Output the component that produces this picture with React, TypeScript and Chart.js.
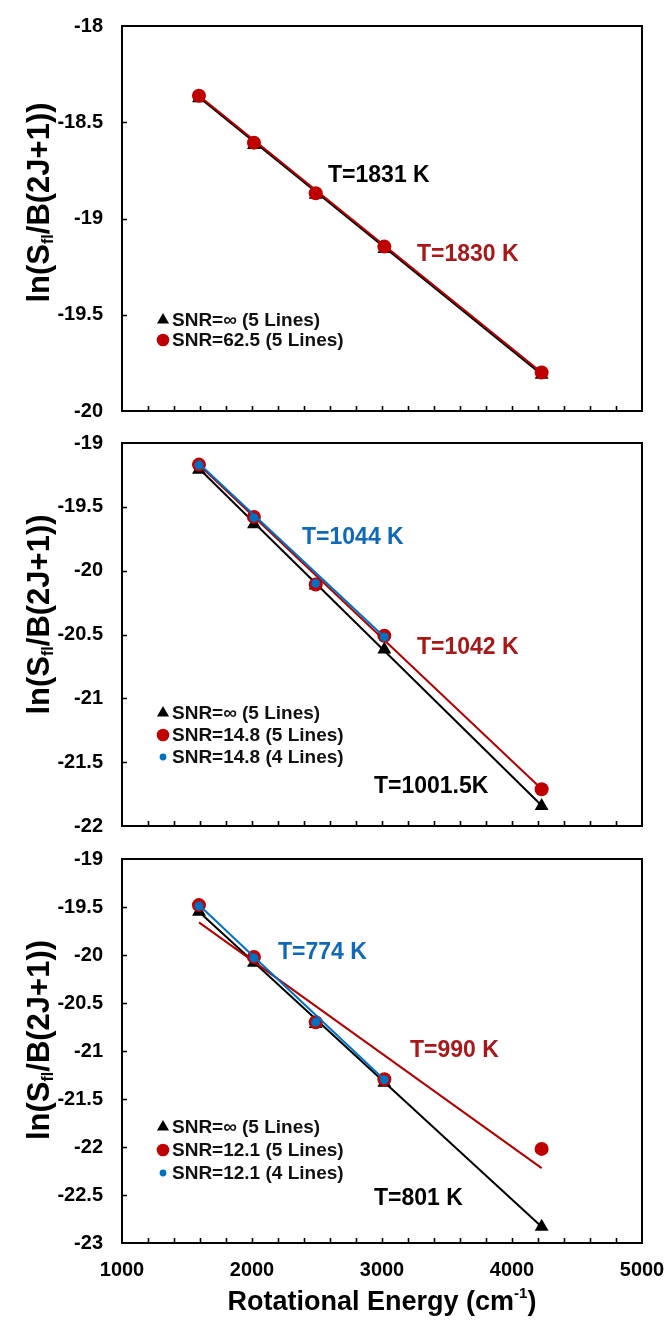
import React, { useEffect, useRef } from "react";
import { Chart, registerables } from "chart.js";

Chart.register(...registerables);

const FONT = "'Liberation Sans', Arial, Helvetica, sans-serif";

// ---------- shared x data ----------
const energies5 = [1592, 2015, 2490, 3018, 4228];
const energies4 = [1592, 2015, 2490, 3018];
const fitX5 = [1592, 4228];
const fitX4 = [1592, 3018];
const xTicks = [1000, 2000, 3000, 4000, 5000];

// ---------- panel 1 ----------
const p1YTicks = [-20, -19.5, -19, -18.5, -18];
const p1Inf = [-18.375, -18.618, -18.876, -19.158, -19.812];
const p1Snr = [-18.362, -18.606, -18.869, -19.146, -19.8];
const p1FitInf = [-18.37, -19.81];
const p1FitSnr = [-18.362, -19.8];
const p1Labels = ["SNR=∞ (5 Lines)", "SNR=62.5 (5 Lines)"];
const p1Temps = ["T=1831 K", "T=1830 K"];

// ---------- panel 2 ----------
const p2YTicks = [-22, -21.5, -21, -20.5, -20, -19.5, -19];
const p2Inf = [-19.21, -19.636, -20.117, -20.617, -21.843];
const p2Snr5 = [-19.169, -19.579, -20.108, -20.51, -21.712];
const p2Snr4 = [-19.172, -19.585, -20.1, -20.52];
const p2FitInf = [-19.2, -21.84];
const p2FitSnr5 = [-19.17, -21.71];
const p2FitSnr4 = [-19.16, -20.52];
const p2Labels = ["SNR=∞ (5 Lines)", "SNR=14.8 (5 Lines)", "SNR=14.8 (4 Lines)"];
const p2Temps = ["T=1044 K", "T=1042 K", "T=1001.5K"];

// ---------- panel 3 ----------
const p3YTicks = [-23, -22.5, -22, -21.5, -21, -20.5, -20, -19.5, -19];
const p3Inf = [-19.55, -20.08, -20.72, -21.33, -22.83];
const p3Snr5 = [-19.48, -20.02, -20.7, -21.295, -22.02];
const p3Snr4 = [-19.49, -20.03, -20.7, -21.3];
const p3FitInf = [-19.55, -22.83];
const p3FitSnr5 = [-19.66, -22.22];
const p3FitSnr4 = [-19.48, -21.3];
const p3Labels = ["SNR=∞ (5 Lines)", "SNR=12.1 (5 Lines)", "SNR=12.1 (4 Lines)"];
const p3Temps = ["T=774 K", "T=990 K", "T=801 K"];

const xTitle = ["Rotational Energy (cm", "-1", ")"];
const yTitle = ["ln(S", "fl", "/B(2J+1))"];

// ---------- styles ----------
const BLACK = "#000000";
const RED = "#C00000";
const RED_LINE = "#B00000";
const RED_TEXT = "#A81818";
const BLUE = "#0070C0";
const BLUE_TEXT = "#1068B8";

type Kind = "tri" | "red" | "blue" | "lBlack" | "lRed" | "lBlue";

const zip = (xs: number[], ys: number[]) => xs.map((x, i) => ({ x, y: ys[i] }));

function makeDataset(kind: Kind, label: string, xs: number[], ys: number[]) {
  const data = zip(xs, ys);
  switch (kind) {
    case "tri":
      return { label, data, pointStyle: "triangle", pointRadius: 8, backgroundColor: BLACK, borderColor: BLACK, borderWidth: 0, showLine: false, order: 6 };
    case "red":
      return { label, data, pointStyle: "circle", pointRadius: 7, backgroundColor: RED, borderColor: RED, borderWidth: 0, showLine: false, order: 3 };
    case "blue":
      return { label, data, pointStyle: "circle", pointRadius: 4.5, backgroundColor: BLUE, borderColor: BLUE, borderWidth: 0, showLine: false, order: 1 };
    case "lBlack":
      return { label, data, pointRadius: 0, borderColor: BLACK, borderWidth: 2, showLine: true, order: 5 };
    case "lRed":
      return { label, data, pointRadius: 0, borderColor: RED_LINE, borderWidth: 2, showLine: true, order: 4 };
    case "lBlue":
      return { label, data, pointRadius: 0, borderColor: BLUE, borderWidth: 2, showLine: true, order: 2 };
  }
}

type Note = { text: string; x: number; y: number; color: string };
type LegendItem = { label: string; kind: Kind };

type Panel = {
  top: number;
  height: number;
  padTop: number;
  xAxisH: number;
  yMin: number;
  yMax: number;
  yTicks: number[];
  showX: boolean;
  titleOff: number;
  legendBottom: number;
  legendGap: number;
  datasets: any[];
  legend: LegendItem[];
  notes: Note[];
};

const panels: Panel[] = [
  {
    top: 0, height: 427, padTop: 26, xAxisH: 16, yMin: -20, yMax: -18, yTicks: p1YTicks,
    showX: false, titleOff: -16, legendBottom: 314, legendGap: 20,
    datasets: [
      makeDataset("tri", p1Labels[0], energies5, p1Inf),
      makeDataset("red", p1Labels[1], energies5, p1Snr),
      makeDataset("lBlack", "fit ∞", fitX5, p1FitInf),
      makeDataset("lRed", "fit 62.5", fitX5, p1FitSnr),
    ],
    legend: [{ label: p1Labels[0], kind: "tri" }, { label: p1Labels[1], kind: "red" }],
    notes: [
      { text: p1Temps[0], x: 2585, y: -18.78, color: BLACK },
      { text: p1Temps[1], x: 3269, y: -19.19, color: RED_TEXT },
    ],
  },
  {
    top: 427, height: 416, padTop: 16, xAxisH: 17, yMin: -22, yMax: -19, yTicks: p2YTicks,
    showX: false, titleOff: -20, legendBottom: 314, legendGap: 22,
    datasets: [
      makeDataset("tri", p2Labels[0], energies5, p2Inf),
      makeDataset("red", p2Labels[1], energies5, p2Snr5),
      makeDataset("blue", p2Labels[2], energies4, p2Snr4),
      makeDataset("lBlack", "fit ∞", fitX5, p2FitInf),
      makeDataset("lRed", "fit 14.8 (5)", fitX5, p2FitSnr5),
      makeDataset("lBlue", "fit 14.8 (4)", fitX4, p2FitSnr4),
    ],
    legend: [
      { label: p2Labels[0], kind: "tri" },
      { label: p2Labels[1], kind: "red" },
      { label: p2Labels[2], kind: "blue" },
    ],
    notes: [
      { text: p2Temps[0], x: 2385, y: -19.744, color: BLUE_TEXT },
      { text: p2Temps[1], x: 3269, y: -20.6, color: RED_TEXT },
      { text: p2Temps[2], x: 2938, y: -21.69, color: BLACK },
    ],
  },
  {
    top: 843, height: 478, padTop: 16, xAxisH: 78, yMin: -23, yMax: -19, yTicks: p3YTicks,
    showX: true, titleOff: -11, legendBottom: 314, legendGap: 23,
    datasets: [
      makeDataset("tri", p3Labels[0], energies5, p3Inf),
      makeDataset("red", p3Labels[1], energies5, p3Snr5),
      makeDataset("blue", p3Labels[2], energies4, p3Snr4),
      makeDataset("lBlack", "fit ∞", fitX5, p3FitInf),
      makeDataset("lRed", "fit 12.1 (5)", fitX5, p3FitSnr5),
      makeDataset("lBlue", "fit 12.1 (4)", fitX4, p3FitSnr4),
    ],
    legend: [
      { label: p3Labels[0], kind: "tri" },
      { label: p3Labels[1], kind: "red" },
      { label: p3Labels[2], kind: "blue" },
    ],
    notes: [
      { text: p3Temps[0], x: 2200, y: -19.98, color: BLUE_TEXT },
      { text: p3Temps[1], x: 3215, y: -21.0, color: RED_TEXT },
      { text: p3Temps[2], x: 2938, y: -22.54, color: BLACK },
    ],
  },
];

function drawMarker(ctx: CanvasRenderingContext2D, kind: Kind, x: number, y: number) {
  ctx.beginPath();
  if (kind === "tri") {
    const r = 7;
    ctx.fillStyle = BLACK;
    for (let i = 0; i < 3; i++) {
      const a = (i * 2 * Math.PI) / 3;
      const px = x + Math.sin(a) * r;
      const py = y - Math.cos(a) * r;
      if (i === 0) ctx.moveTo(px, py);
      else ctx.lineTo(px, py);
    }
    ctx.closePath();
  } else if (kind === "red") {
    ctx.fillStyle = RED;
    ctx.arc(x, y, 6.3, 0, Math.PI * 2);
  } else {
    ctx.fillStyle = BLUE;
    ctx.arc(x, y, 3.4, 0, Math.PI * 2);
  }
  ctx.fill();
}

const decorPlugin = {
  id: "panelDecor",
  afterDraw(chart: any, _args: any, opts: any) {
    const p: Panel = opts.panel;
    const { ctx, chartArea: a, scales } = chart;
    ctx.save();

    // frame
    ctx.strokeStyle = "#000";
    ctx.lineWidth = 2;
    ctx.strokeRect(a.left, a.top, a.right - a.left, a.bottom - a.top);

    // inward x ticks every 200
    ctx.lineWidth = 1.6;
    ctx.beginPath();
    for (let v = 1200; v < 5000; v += 200) {
      const px = Math.round(scales.x.getPixelForValue(v)) + 0.5;
      ctx.moveTo(px, a.bottom);
      ctx.lineTo(px, a.bottom - 5);
    }
    // inward y ticks
    for (const v of p.yTicks) {
      if (v === p.yMin || v === p.yMax) continue;
      const py = Math.round(scales.y.getPixelForValue(v)) + 0.5;
      ctx.moveTo(a.left, py);
      ctx.lineTo(a.left + 5, py);
    }
    ctx.stroke();

    // y title with subscript
    ctx.save();
    ctx.translate(38, (a.top + a.bottom) / 2 + p.titleOff);
    ctx.rotate(-Math.PI / 2);
    const mainFont = `bold 31px ${FONT}`;
    const subFont = `bold 16px ${FONT}`;
    ctx.font = mainFont;
    const w0 = ctx.measureText(yTitle[0]).width;
    const w2 = ctx.measureText(yTitle[2]).width;
    ctx.font = subFont;
    const w1 = ctx.measureText(yTitle[1]).width;
    let sx = -(w0 + w1 + w2) / 2;
    ctx.fillStyle = "#000";
    ctx.textBaseline = "alphabetic";
    ctx.textAlign = "left";
    ctx.font = mainFont;
    ctx.fillText(yTitle[0], sx, 11);
    sx += w0;
    ctx.font = subFont;
    ctx.fillText(yTitle[1], sx, 15);
    sx += w1;
    ctx.font = mainFont;
    ctx.fillText(yTitle[2], sx, 11);
    ctx.restore();

    // legend
    const n = p.legend.length;
    ctx.font = `bold 19px ${FONT}`;
    ctx.textBaseline = "middle";
    ctx.textAlign = "left";
    p.legend.forEach((item, i) => {
      const y = a.top + p.legendBottom - (n - 1 - i) * p.legendGap;
      drawMarker(ctx, item.kind, a.left + 41, y);
      ctx.fillStyle = "#111";
      ctx.fillText(item.label, a.left + 50, y + 1);
    });

    // temperature notes
    ctx.font = `bold 23px ${FONT}`;
    for (const nt of p.notes) {
      ctx.fillStyle = nt.color;
      ctx.fillText(nt.text, scales.x.getPixelForValue(nt.x), scales.y.getPixelForValue(nt.y));
    }

    // x title
    if (p.showX) {
      const cx = (a.left + a.right) / 2;
      const cy = a.bottom + 57;
      const f1 = `bold 27px ${FONT}`;
      const f2 = `bold 15px ${FONT}`;
      ctx.font = f1;
      const t0 = ctx.measureText(xTitle[0]).width;
      const t2 = ctx.measureText(xTitle[2]).width;
      ctx.font = f2;
      const t1 = ctx.measureText(xTitle[1]).width;
      let x = cx - (t0 + t1 + t2) / 2;
      ctx.fillStyle = "#000";
      ctx.textBaseline = "alphabetic";
      ctx.font = f1;
      ctx.fillText(xTitle[0], x, cy + 10);
      x += t0;
      ctx.font = f2;
      ctx.fillText(xTitle[1], x, cy - 2);
      x += t1;
      ctx.font = f1;
      ctx.fillText(xTitle[2], x, cy + 10);
    }
    ctx.restore();
  },
};

const hiddenGrid = (len: number) => ({
  display: true,
  drawOnChartArea: false,
  drawTicks: true,
  tickLength: len,
  color: "rgba(0,0,0,0)",
});

function PanelChart({ p }: { p: Panel }) {
  const ref = useRef<HTMLCanvasElement | null>(null);
  useEffect(() => {
    if (!ref.current) return;
    const tickFont = { family: FONT, size: 20, weight: "bold" as const };
    const chart = new Chart(ref.current, {
      type: "scatter",
      data: { datasets: p.datasets },
      options: {
        responsive: false,
        animation: false,
        events: [],
        layout: { padding: { left: 0, right: 28, top: p.padTop, bottom: 0 }, autoPadding: false },
        scales: {
          x: {
            type: "linear",
            min: 1000,
            max: 5000,
            grid: hiddenGrid(15),
            border: { display: false },
            afterBuildTicks: (s: any) => {
              s.ticks = xTicks.map((v) => ({ value: v }));
            },
            ticks: {
              display: p.showX,
              font: tickFont,
              color: "#000",
              padding: 0,
              autoSkip: false,
              maxRotation: 0,
              callback: (v: any) => String(v),
            },
            afterFit: (s: any) => {
              s.height = p.xAxisH;
            },
          },
          y: {
            type: "linear",
            min: p.yMin,
            max: p.yMax,
            grid: hiddenGrid(19),
            border: { display: false },
            afterBuildTicks: (s: any) => {
              s.ticks = p.yTicks.map((v) => ({ value: v }));
            },
            ticks: {
              font: tickFont,
              color: "#000",
              padding: 0,
              autoSkip: false,
              callback: (v: any) => String(v),
            },
            afterFit: (s: any) => {
              s.width = 122;
            },
          },
        },
        plugins: {
          legend: { display: false },
          tooltip: { enabled: false },
          panelDecor: { panel: p },
        } as any,
      },
      plugins: [decorPlugin],
    } as any);
    return () => chart.destroy();
  }, [p]);
  return (
    <canvas
      ref={ref}
      width={670}
      height={p.height}
      style={{ position: "absolute", left: 0, top: p.top, width: 670, height: p.height }}
    />
  );
}

export default function App() {
  return (
    <div style={{ position: "absolute", left: 0, top: 0, width: 670, height: 1321, background: "#fff" }}>
      {panels.map((p, i) => (
        <PanelChart key={i} p={p} />
      ))}
    </div>
  );
}
